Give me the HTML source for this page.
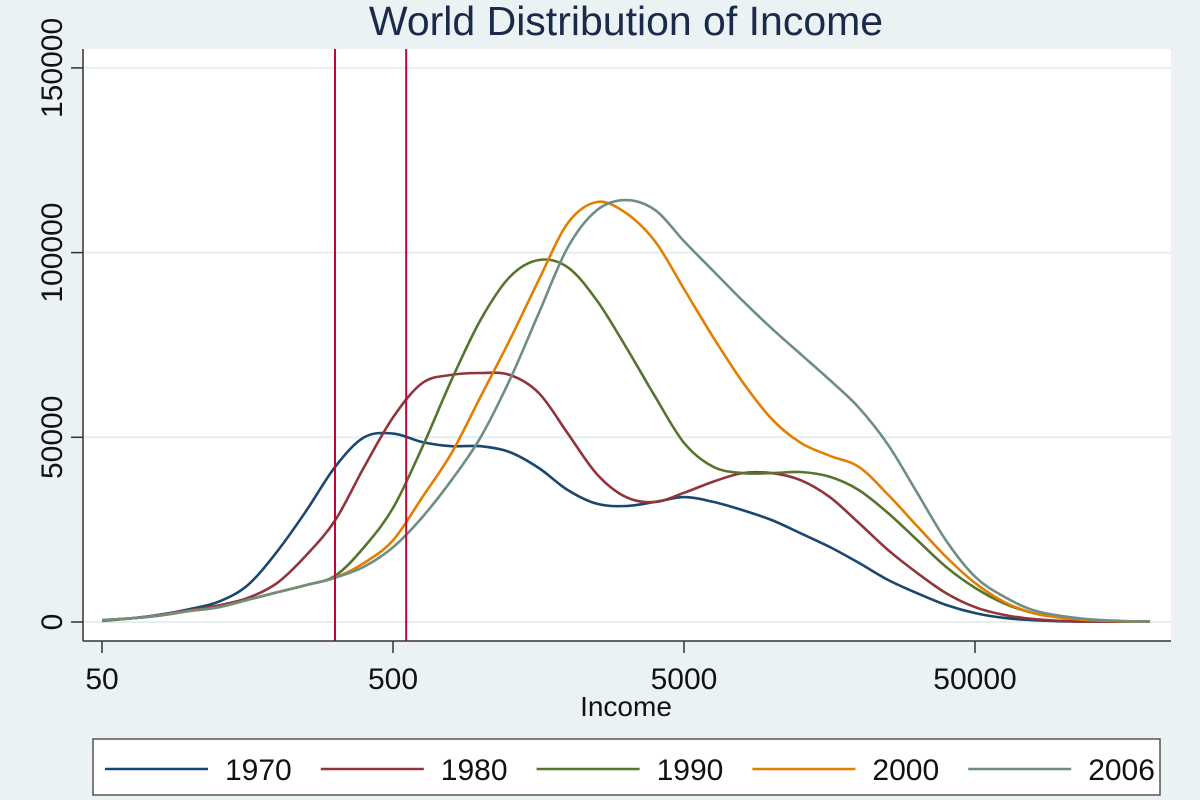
<!DOCTYPE html>
<html><head><meta charset="utf-8"><style>
html,body{margin:0;padding:0;background:#eaf2f3;}
svg{display:block;font-family:"Liberation Sans",Arial,sans-serif;}
</style></head><body>
<svg id="chart" width="1200" height="800" viewBox="0 0 1200 800">
<rect x="0" y="0" width="1200" height="800" fill="#eaf2f3"/>
<text x="626" y="35" font-size="41" fill="#1a2a4a" text-anchor="middle">World Distribution of Income</text>
<rect x="83" y="49" width="1088" height="592" fill="#ffffff"/>
<g id="grid"></g>
<g id="series"></g>
<g id="vlines"></g>
<line x1="83" y1="49" x2="83" y2="641" stroke="#333" stroke-width="1.5"/>
<line x1="83" y1="641" x2="1171" y2="641" stroke="#333" stroke-width="1.5"/>
<g id="yticks"></g>
<g id="xticks"></g>
<text x="626" y="716" font-size="28" fill="#111" text-anchor="middle">Income</text>
<rect x="93" y="739" width="1067" height="56" fill="#ffffff" stroke="#555" stroke-width="1.5"/>
<g id="legend"></g>
</svg>
<script>
// log10(income) grid
const logIncome = [1.7,1.8,1.9,2.0,2.1,2.2,2.3,2.4,2.5,2.6,2.7,2.8,2.9,3.0,3.1,3.2,3.3,3.4,3.5,3.6,3.7,3.8,3.9,4.0,4.1,4.2,4.3,4.4,4.5,4.6,4.7,4.8,4.9,5.0,5.1,5.2,5.3];
// values in thousands
const s1970 = [0.5,1,2,3.5,5.5,10,19,30,42,50,51,48.7,47.6,47.6,46,41.7,35.7,32,31.4,32.5,33.8,32.5,30.3,27.6,24,20.3,16,11.4,7.8,4.6,2.4,1.1,0.5,0.2,0.1,0.1,0.1];
const s1980 = [0.3,1,2,3.2,4.5,6.5,10.5,18,27.5,42,55.5,64.7,66.9,67.4,66.9,62,51,40,33.8,32.5,35,38,40.3,40.3,38.4,33.8,26.8,19.5,13.3,7.8,4,1.9,0.8,0.3,0.1,0.1,0.1];
const s1990 = [0.5,1,1.8,3,4,6,8,10,12.5,20.3,31,47.4,65.5,81.8,93.4,98,96,87,74.4,61,48.4,42,40.3,40.3,40.6,39.3,35.7,29.5,22.2,14.9,9.2,5,2.4,1.2,0.5,0.2,0.1];
const s2000 = [0.5,1,1.8,3,4,6,8,10,12,16,22.2,33.8,45.7,61,76.3,92.6,108,113.7,110.7,103,90,77,65,55,48.5,45,42,34.5,26,17.6,10.5,5.4,2.4,1.1,0.5,0.2,0.1];
const s2006 = [0.5,1,1.8,3,4,6,8,10,12,15,20.3,28.4,38.4,50,65.5,83.6,101.5,111.5,114.2,111.5,103,95,87,79.5,72.5,65.5,58,48,35,22,12.2,6.8,3.2,1.6,0.7,0.3,0.1];
const seriesNames = ["1970","1980","1990","2000","2006"];
const seriesColors = ["#1a476f","#90353b","#55752f","#e37e00","#6e8e84"];
const yTicks = [0,50000,100000,150000];
const xTicks = [50,500,5000,50000];
const refLines = [316,555];

const NS="http://www.w3.org/2000/svg";
function xs(income){return 102+(Math.log10(income)-Math.log10(50))*291;}
function xl(L){return 102+(L-Math.log10(50))*291;}
function ys(v){return 622-v/50000*184.7;}
function mk(tag,attrs,parent){const e=document.createElementNS(NS,tag);for(const k in attrs)e.setAttribute(k,attrs[k]);parent.appendChild(e);return e;}

const grid=document.getElementById('grid'), yt=document.getElementById('yticks'), xt=document.getElementById('xticks');
yTicks.forEach(v=>{
  const y=ys(v);
  const g=mk('line',{x1:83,x2:1171,y1:y,y2:y,stroke:'#e6eeef','stroke-width':2},grid);
  
  
  const t=mk('line',{x1:71,x2:83,y1:y,y2:y,stroke:'#333','stroke-width':1.5},yt);
  
  
  const lb=mk('text',{x:0,y:0,'font-size':30,fill:'#111','text-anchor':'middle',transform:`translate(62,${y}) rotate(-90)`},yt);
  lb.textContent=String(v);
  
  
});
xTicks.forEach(v=>{
  const x=xs(v);
  const t=mk('line',{x1:x,x2:x,y1:641,y2:653,stroke:'#333','stroke-width':1.5},xt);
  
  
  const lb=mk('text',{x:x,y:689,'font-size':30,fill:'#111','text-anchor':'middle'},xt);
  lb.textContent=String(v);
  
  
});

function smoothPath(pts){
  let d=`M${pts[0][0]},${pts[0][1]}`;
  for(let i=0;i<pts.length-1;i++){
    const p0=pts[i-1]||pts[i],p1=pts[i],p2=pts[i+1],p3=pts[i+2]||p2;
    const c1=[p1[0]+(p2[0]-p0[0])/6,p1[1]+(p2[1]-p0[1])/6];
    const c2=[p2[0]-(p3[0]-p1[0])/6,p2[1]-(p3[1]-p1[1])/6];
    d+=` C${c1[0].toFixed(1)},${c1[1].toFixed(1)} ${c2[0].toFixed(1)},${c2[1].toFixed(1)} ${p2[0].toFixed(1)},${p2[1].toFixed(1)}`;
  }
  return d;
}
const allSeries=[s1970,s1980,s1990,s2000,s2006];
const sg=document.getElementById('series');
allSeries.forEach((s,i)=>{
  const pts=s.map((v,j)=>[xl(logIncome[j]),ys(v*1000)]);
  const p=mk('path',{d:smoothPath(pts),fill:'none',stroke:seriesColors[i],'stroke-width':2.6},sg);
  
  
});
const vg=document.getElementById('vlines');
refLines.forEach(v=>{
  const l=mk('line',{x1:xs(v),x2:xs(v),y1:49,y2:641,stroke:'#c10534','stroke-width':2},vg);
  
  
});
const lg=document.getElementById('legend');
seriesNames.forEach((n,i)=>{
  const x0=105+i*215.8;
  const l=mk('line',{x1:x0,x2:x0+103,y1:769,y2:769,stroke:seriesColors[i],'stroke-width':2.6},lg);
  
  
  const t=mk('text',{x:x0+120,y:780,'font-size':30,fill:'#111'},lg);
  t.textContent=n;
  
  
});
</script>
</body></html>
